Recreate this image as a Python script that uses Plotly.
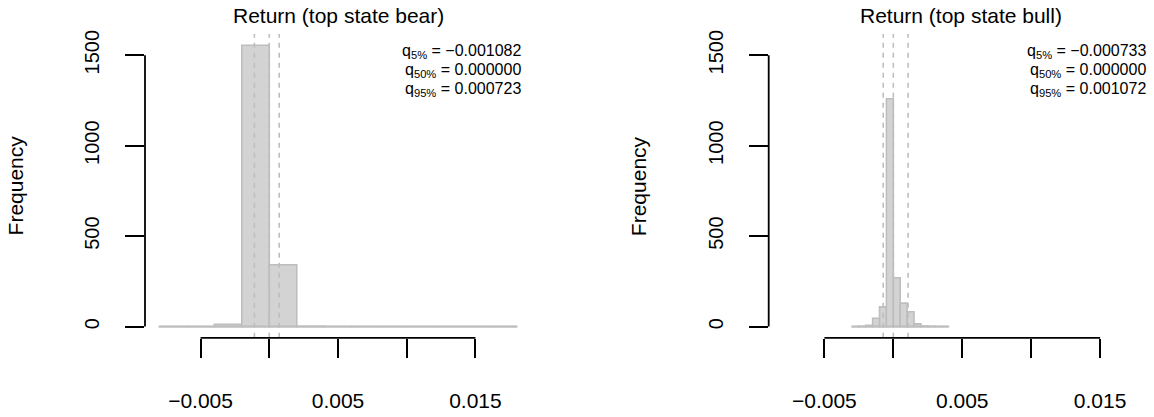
import plotly.graph_objects as go

# ---------------- data ----------------
# Left panel: Return (top state bear) -- bins of width 0.002
bear_edges = [-0.008, -0.006, -0.004, -0.002, 0.0, 0.002, 0.004, 0.006, 0.008,
              0.010, 0.012, 0.014, 0.016, 0.018]
bear_counts = [1, 1, 13, 1555, 342, 2, 1, 1, 0, 1, 0, 0, 1]
bear_q = [-0.001082, 0.000000, 0.000723]

# Right panel: Return (top state bull) -- bins of width 0.0005
bull_edges = [-0.003, -0.0025, -0.002, -0.0015, -0.001, -0.0005, 0.0, 0.0005,
              0.001, 0.0015, 0.002, 0.0025, 0.003, 0.0035, 0.004]
bull_counts = [1, 2, 7, 46, 109, 1259, 270, 130, 82, 15, 3, 2, 1, 1]
bull_q = [-0.000733, 0.000000, 0.001072]

panel_titles = ["Return (top state bear)", "Return (top state bull)"]
q_labels = ["5%", "50%", "95%"]

x_tickvals = [-0.005, 0.005, 0.015]          # labelled ticks
x_ticktext = ["\u22120.005", "0.005", "0.015"]
x_minor_tickvals = [0.0, 0.010]              # unlabelled ticks
y_tickvals = [0, 500, 1000, 1500]
y_ticktext = ["0", "500", "1000", "1500"]

# ---------------- layout geometry ----------------
W, H = 1154, 417
FONT = "Liberation Sans, Arial, Helvetica, sans-serif"
FILL = "#D3D3D3"
BORDER = "#BEBEBE"

# common limits (R style: extend by 4%)
xlo_b, xhi_b = bear_edges[0], bear_edges[-1]
ext = 0.04 * (xhi_b - xlo_b)
xlim = [xlo_b - ext, xhi_b + ext]
ymax = max(max(bear_counts), max(bull_counts))
ylim = [-0.04 * ymax, 1.04 * ymax]

# pixel positions of plot regions
left_px = [145.0, 531.0]
right_px = [768.7, 1155.8]
ybot_px, ytop_px = 337.1, 30.3

def fmt(v):
    s = "%.6f" % v
    return s.replace("-", "\u2212")

fig = go.Figure()

panels = [
    (bear_edges, bear_counts, bear_q, left_px, "x", "y"),
    (bull_edges, bull_counts, bull_q, right_px, "x2", "y2"),
]

annotations = []
shapes = []
for i, (edges, counts, qs, px, xa, ya) in enumerate(panels):
    centers = [(edges[k] + edges[k + 1]) / 2 for k in range(len(counts))]
    widths = [edges[k + 1] - edges[k] for k in range(len(counts))]
    # baseline (zero-height bin borders)
    fig.add_trace(go.Scatter(x=[edges[0], edges[-1]], y=[0, 0], mode="lines",
                             line=dict(color=BORDER, width=2), xaxis=xa, yaxis=ya,
                             showlegend=False, hoverinfo="skip"))
    fig.add_trace(go.Bar(x=centers, y=counts, width=widths, xaxis=xa, yaxis=ya,
                         marker=dict(color=FILL, line=dict(color=BORDER, width=1.6)),
                         showlegend=False))
    for q in qs:
        fig.add_trace(go.Scatter(x=[q, q], y=[ylim[0], ylim[1]], mode="lines",
                                 line=dict(color=BORDER, width=1.6, dash="5px,5px"),
                                 xaxis=xa, yaxis=ya, showlegend=False, hoverinfo="skip"))

    # axis domains / ranges
    dom0 = px[0] / W
    dom1 = min(1.0, px[1] / W)
    frac = (min(W, px[1]) - px[0]) / (px[1] - px[0])
    rng = [xlim[0], xlim[0] + frac * (xlim[1] - xlim[0])]
    xkey = "xaxis" if xa == "x" else "xaxis2"
    ykey = "yaxis" if ya == "y" else "yaxis2"
    fig.layout[xkey] = dict(domain=[dom0, dom1], range=rng, anchor=ya,
                            showgrid=False, zeroline=False, showline=False,
                            tickmode="array", tickvals=x_tickvals, ticktext=x_ticktext,
                            ticks="outside", ticklen=19, tickwidth=1.8, tickcolor="black",
                            minor=dict(tickmode="array", tickvals=x_minor_tickvals,
                                       ticks="outside", ticklen=19, tickwidth=1.8,
                                       tickcolor="black", showgrid=False),
                            ticklabelstandoff=25,
                            tickfont=dict(family=FONT, size=21, color="black"))
    fig.layout[ykey] = dict(domain=[1 - ybot_px / H, 1 - ytop_px / H], range=ylim,
                            anchor=xa, showgrid=False, zeroline=False, showline=False,
                            tickmode="array", tickvals=y_tickvals, ticktext=y_ticktext,
                            ticks="outside", ticklen=19, tickwidth=1.8, tickcolor="black",
                            tickangle=-90, ticklabelstandoff=18,
                            tickfont=dict(family=FONT, size=20, color="black"))

    xd = "x domain" if xa == "x" else "x2 domain"
    yd = "y domain" if ya == "y" else "y2 domain"
    # detached R-style axis lines
    shapes.append(dict(type="line", xref=xa, yref=yd, x0=x_tickvals[0], x1=x_tickvals[-1],
                       y0=0, y1=0, line=dict(color="black", width=1.8)))
    shapes.append(dict(type="line", xref=xd, yref=ya, x0=0, x1=0,
                       y0=y_tickvals[0], y1=y_tickvals[-1], line=dict(color="black", width=1.8)))

    # title
    annotations.append(dict(text=panel_titles[i], xref=xd, x=0.5, yref="paper",
                            y=1 - 12 / H, xanchor="center", yanchor="middle",
                            showarrow=False, font=dict(family=FONT, size=21, color="black")))
    # y title
    annotations.append(dict(text="Frequency", xref="paper", x=(px[0] - 129.5) / W,
                            yref=yd, y=0.5, textangle=-90, xanchor="center",
                            yanchor="middle", showarrow=False,
                            font=dict(family=FONT, size=21, color="black")))
    # quantile text
    right_edge = px[1] - 8.2
    for j, (lab, q) in enumerate(zip(q_labels, qs)):
        annotations.append(dict(text="q<sub>%s</sub> = %s" % (lab, fmt(q)),
                                xref="paper", x=right_edge / W, yref="paper",
                                y=1 - (48 + 19 * j) / H, xanchor="right", yanchor="middle",
                                showarrow=False,
                                font=dict(family=FONT, size=16, color="black")))

fig.update_layout(width=W, height=H, margin=dict(l=0, r=0, t=0, b=0),
                  paper_bgcolor="white", plot_bgcolor="white",
                  annotations=annotations, shapes=shapes, barmode="overlay",
                  font=dict(family=FONT))

fig.write_html("out.html")
